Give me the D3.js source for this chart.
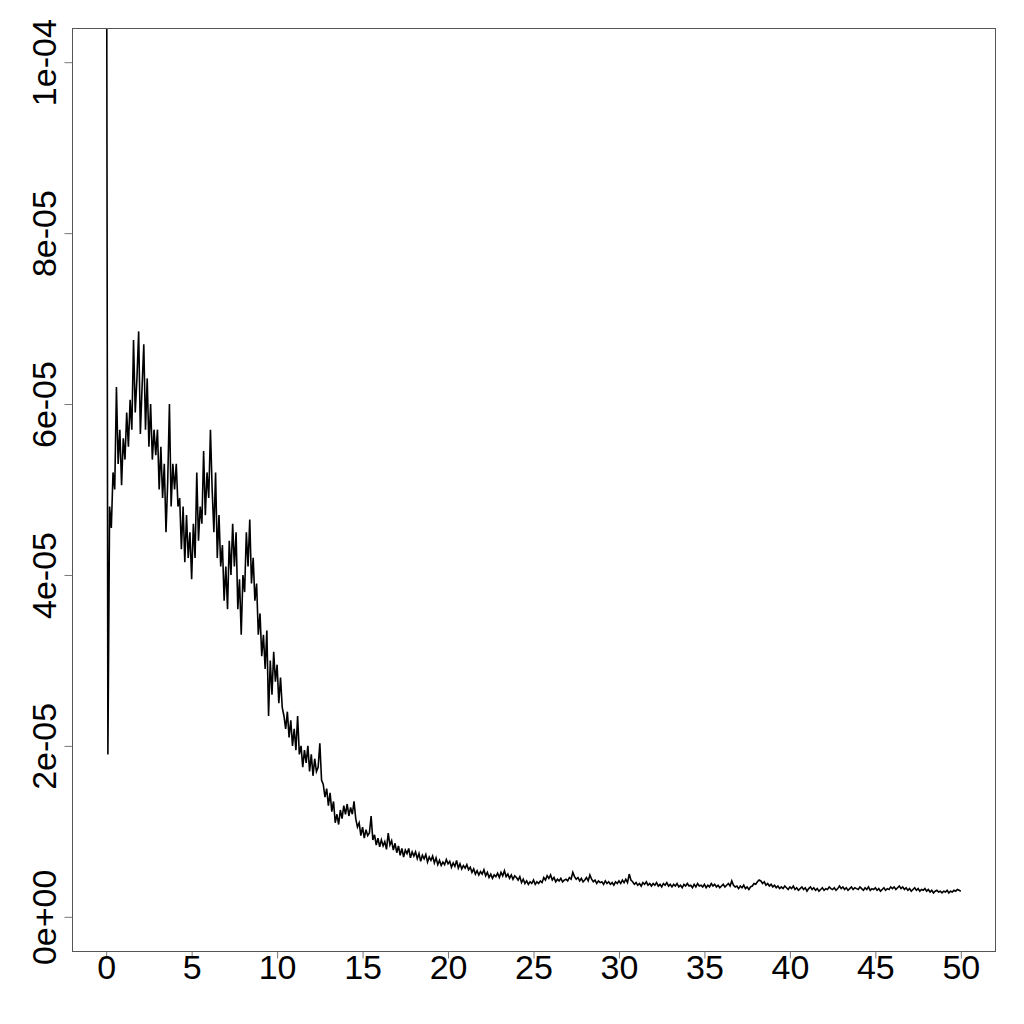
<!DOCTYPE html>
<html>
<head>
<meta charset="utf-8">
<script src="https://d3js.org/d3.v7.min.js"></script>
<style>
  body { margin: 0; background: #fff; }
  text { font-family: "Liberation Sans", Arial, sans-serif; }
</style>
</head>
<body>
<svg width="1024" height="1024"></svg>
<script>
// series sampled every dt, starting at t0; values in units of 1e-6
var t0 = 0, dt = 0.1, unit = 1e-6;
var values = [
  150, 19, 48, 45.5, 52, 50, 62, 53, 57, 50.5,
  56, 53.5, 59, 55, 60.5, 57, 67.5, 59, 63, 68.5,
  56.5, 62, 67, 57, 63, 55, 60, 53.5, 57, 54,
  57, 50, 55, 49, 53, 45, 51, 60, 48, 53,
  50, 53, 48, 49, 43, 48, 41.5, 47, 42, 45,
  39.5, 46, 42, 52, 44, 48, 46, 54.5, 47, 52,
  49, 57, 50, 45, 52, 42, 47, 41, 43.5, 37,
  41, 36, 44, 40, 46, 41, 45, 36, 39.5, 33,
  40, 38, 45, 41, 46.5, 39, 42, 37, 39, 33,
  35.5, 30.5, 33, 29, 33.5, 23.5, 30, 26, 31, 27.5,
  29.5, 25, 28, 24.5, 23.5, 22, 24, 21, 23, 20,
  22, 19.5, 23.5, 19, 20, 17.5, 19.5, 18, 20, 17,
  19, 16.5, 18.5, 17, 17.5, 20.3, 16, 15.5, 14, 15,
  13, 14.5, 12.3, 13.5, 11, 12, 10.8, 12.5, 11.5, 13,
  12, 13.2, 11.8, 12.8, 12, 13.5, 11.5, 10.5, 11, 9.5,
  10.5, 9.2, 10.2, 9.5, 9.8, 11.8, 9, 9.6, 8.4, 9.2,
  8.2, 9, 8.3, 8.8, 7.9, 9.8, 8.4, 8.9, 7.8, 8.6,
  7.5, 8.3, 7.2, 8, 7, 7.8, 7.4, 8, 6.9, 7.6,
  7.1, 7.6, 6.8, 7.4, 6.5, 7.2, 6.8, 7.3, 6.4, 7.0,
  6.6, 7.1, 6.3, 6.9, 6.1, 6.6, 6.0, 6.4, 6.1, 6.7,
  6.2, 6.5, 5.8, 6.3, 5.9, 6.6, 5.7, 6.2, 5.6, 6.0,
  5.7, 6.1, 5.5, 5.8, 5.2, 5.6, 5.0, 5.4, 4.9, 5.3,
  5.0, 5.5, 4.8, 5.2, 4.6, 5.0, 4.5, 4.9, 4.7, 5.1,
  4.6, 5.2, 4.8, 5.4, 4.7, 5.0, 4.5, 4.9, 4.4, 4.8,
  4.6, 4.3, 4.7, 4.0, 4.4, 3.9, 4.2, 3.8, 4.1, 3.9,
  4.3, 3.8, 4.1, 3.9, 4.2, 4.0, 4.6, 4.3, 4.8, 4.5,
  4.9, 4.3, 4.6, 4.1, 4.4, 4.2, 4.5, 4.1, 4.3, 4.4,
  4.2, 4.6, 4.4, 5.2, 4.7, 4.4, 4.6, 4.2, 4.5, 4.1,
  4.3, 4.6, 4.2, 4.9, 4.4, 4.1, 4.3, 3.9, 4.2, 4.0,
  4.1, 3.8, 4.2, 3.9, 4.1, 3.8, 4.0, 3.7, 4.1, 3.9,
  4.2, 3.9, 4.3, 4.0, 4.4, 4.0, 5.0, 4.3, 4.1, 3.8,
  4.0, 3.7, 3.9, 3.6, 4.0, 3.8, 4.1, 3.7, 3.9, 3.6,
  3.9, 3.7, 4.0, 3.6, 3.8, 3.5, 3.9, 3.7, 4.0, 3.6,
  3.8, 3.5, 3.8, 3.6, 3.9, 3.5, 3.7, 3.4, 3.8, 3.6,
  3.9, 3.6, 3.7, 3.4, 3.8, 3.5, 3.9, 3.6, 3.7, 3.5,
  3.8, 3.4, 3.7, 3.5, 3.9, 3.6, 3.8, 3.5, 3.7, 3.4,
  3.6, 3.8, 3.5, 3.7, 3.9, 3.6, 4.2, 3.7, 3.5, 3.6,
  3.3, 3.6, 3.4, 3.7, 3.3, 3.5, 3.2, 3.5, 3.6, 3.9,
  3.8, 4.1, 4.3, 4.2, 3.9, 4.1, 3.7, 3.9, 3.6, 3.8,
  3.5, 3.7, 3.4, 3.6, 3.3, 3.5, 3.3, 3.6, 3.4, 3.2,
  3.5, 3.3, 3.6, 3.2, 3.4, 3.1, 3.3, 3.5, 3.2, 3.4,
  3.0, 3.3, 3.5, 3.2, 3.4, 3.1, 3.3, 3.0, 3.2, 3.4,
  3.1, 3.3, 3.2, 3.5, 3.3, 3.2, 3.4, 3.1, 3.3, 3.6,
  3.3, 3.5, 3.2, 3.4, 3.1, 3.3, 3.5, 3.2, 3.4, 3.3,
  3.2, 3.5, 3.3, 3.1, 3.4, 3.2, 3.5, 3.1, 3.3, 3.2,
  3.4, 3.1, 3.3, 3.0, 3.2, 3.4, 3.1, 3.3, 3.2, 3.5,
  3.3, 3.5, 3.2, 3.4, 3.6, 3.3, 3.5, 3.2, 3.4, 3.1,
  3.3, 3.0, 3.2, 3.4, 3.1, 3.3, 3.0, 3.2, 3.1, 3.3,
  3.0, 3.2, 2.9, 3.1, 2.8, 3.0, 3.1, 2.9, 3.0, 2.8,
  3.0, 2.9, 3.1, 2.8, 3.0, 2.9, 3.1, 3.0, 3.2, 3.1,
  3.0
];
var xTicks = [0, 5, 10, 15, 20, 25, 30, 35, 40, 45, 50];
var yTicks = [0, 2e-5, 4e-5, 6e-5, 8e-5, 1e-4];
var yTickLabels = ["0e+00", "2e-05", "4e-05", "6e-05", "8e-05", "1e-04"];
var xlim = [0, 50], ylim = [0, 1e-4];

var svg = d3.select("svg");
var box = {left: 72, right: 995, top: 28, bottom: 951};

// R style 4% padding on each side
var xpad = (xlim[1] - xlim[0]) * 0.04, ypad = (ylim[1] - ylim[0]) * 0.04;
var x = d3.scaleLinear().domain([xlim[0] - xpad, xlim[1] + xpad]).range([box.left, box.right]);
var y = d3.scaleLinear().domain([ylim[0] - ypad, ylim[1] + ypad]).range([box.bottom, box.top]);

var data = values.map(function(v, i) { return {t: t0 + i * dt, v: v * unit}; });

svg.append("clipPath").attr("id", "clip")
  .append("rect")
    .attr("x", box.left).attr("y", box.top)
    .attr("width", box.right - box.left).attr("height", box.bottom - box.top);

var line = d3.line()
    .x(function(d) { return x(d.t); })
    .y(function(d) { return y(d.v); });

svg.append("path")
    .datum(data)
    .attr("clip-path", "url(#clip)")
    .attr("fill", "none")
    .attr("stroke", "#000")
    .attr("stroke-width", 1.6)
    .attr("stroke-linejoin", "miter")
    .attr("d", line);

// box
svg.append("rect")
    .attr("x", box.left + 0.5).attr("y", box.top + 0.5)
    .attr("width", box.right - box.left).attr("height", box.bottom - box.top)
    .attr("fill", "none").attr("stroke", "#555").attr("stroke-width", 1);

// x axis
var xAxis = d3.axisBottom(x).tickValues(xTicks).tickSize(7).tickPadding(4).tickFormat(d3.format("d"));
var gx = svg.append("g").attr("transform", "translate(0," + (box.bottom + 0.5) + ")").call(xAxis);
gx.select(".domain").remove();
gx.selectAll(".tick line").attr("stroke", "#777");
gx.selectAll(".tick text")
    .attr("fill", "#000")
    .style("font-size", "34px")
    .attr("dy", null).attr("y", 27);

// y axis
var yAxis = d3.axisLeft(y).tickValues(yTicks).tickSize(8)
    .tickFormat(function(d, i) { return yTickLabels[i]; });
var gy = svg.append("g").attr("transform", "translate(" + (box.left + 0.5) + ",0)").call(yAxis);
gy.select(".domain").remove();
gy.selectAll(".tick line").attr("stroke", "#777");
gy.selectAll(".tick text")
    .attr("fill", "#000")
    .style("font-size", "34px")
    .attr("x", null).attr("dy", null)
    .attr("text-anchor", "middle")
    .attr("transform", "translate(-17,0) rotate(-90)");
</script>
</body>
</html>
